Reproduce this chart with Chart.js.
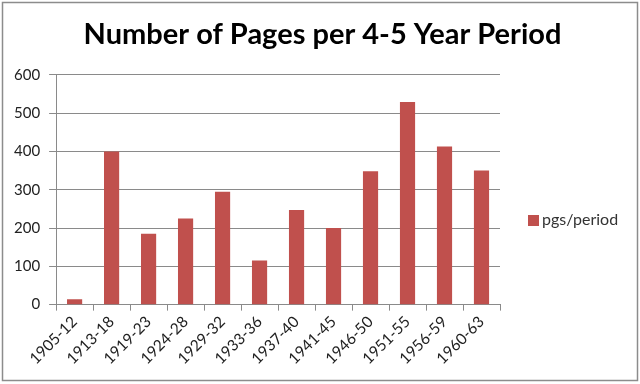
<!DOCTYPE html>
<html>
<head>
<meta charset="utf-8">
<script src="https://cdn.jsdelivr.net/npm/chart.js@4/dist/chart.umd.min.js"></script>
<style>
  html, body { margin: 0; padding: 0; background: #fff; }
  #wrap { width: 640px; height: 384px; position: relative; }
</style>
</head>
<body>
<div id="wrap"><canvas id="c" width="640" height="384"></canvas></div>
<script>
const periods = ['1905-12', '1913-18', '1919-23', '1924-28', '1929-32', '1933-36',
  '1937-40', '1941-45', '1946-50', '1951-55', '1956-59', '1960-63'];
const pages = [14, 400, 185, 225, 295, 115, 247, 200, 348, 529, 413, 350];
const yTicks = [0, 100, 200, 300, 400, 500, 600];

const FONT = 'Lato, "Open Sans", sans-serif';
const RED = '#C0504D';
const GRID = '#8a8a8a';

// outer frame of the chart object
const frame = {
  id: 'frame',
  beforeDraw(chart) {
    const ctx = chart.ctx;
    ctx.save();
    ctx.fillStyle = '#fff';
    ctx.fillRect(0, 0, chart.width, chart.height);
    ctx.strokeStyle = '#8c8c8c';
    ctx.lineWidth = 1.5;
    ctx.strokeRect(2.5, 2.5, chart.width - 5, chart.height - 6);
    ctx.restore();
  }
};

// legend on the right, single entry
const sideLegend = {
  id: 'sideLegend',
  afterDraw(chart) {
    const ctx = chart.ctx;
    const ds = chart.data.datasets[0];
    const x = chart.chartArea.right + 28;
    const y = 220;
    ctx.save();
    ctx.fillStyle = ds.backgroundColor;
    ctx.fillRect(x, y - 5, 11, 11);
    ctx.fillStyle = '#333';
    ctx.font = '16px ' + FONT;
    ctx.textBaseline = 'middle';
    ctx.fillText(ds.label, x + 14, y);
    ctx.restore();
  }
};

new Chart(document.getElementById('c'), {
  type: 'bar',
  data: {
    labels: periods,
    datasets: [{
      label: 'pgs/period',
      data: pages,
      backgroundColor: RED,
      barPercentage: 0.41,
      categoryPercentage: 1.0
    }]
  },
  options: {
    responsive: false,
    animation: false,
    layout: { padding: { left: 5, right: 0, top: 0, bottom: 14 } },
    plugins: {
      legend: { display: false },
      tooltip: { enabled: false },
      title: {
        display: true,
        text: 'Number of Pages per 4-5 Year Period',
        color: '#000',
        font: { family: FONT, size: 29, weight: 'bold' },
        padding: { top: 17, bottom: 23 }
      }
    },
    scales: {
      x: {
        offset: true,
        grid: { display: true, drawOnChartArea: false, offset: true, color: GRID, tickLength: 6 },
        border: { color: GRID },
        ticks: {
          color: '#222',
          font: { family: FONT, size: 15.5 },
          maxRotation: 45, minRotation: 45,
          padding: 2,
          autoSkip: false
        }
      },
      y: {
        min: 0, max: 600,
        afterBuildTicks(axis) { axis.ticks = yTicks.map(v => ({ value: v })); },
        grid: { color: GRID, tickLength: 7 },
        border: { color: GRID },
        ticks: {
          color: '#222',
          font: { family: FONT, size: 15 },
          padding: 9
        }
      },
      // empty right-hand space for the legend
      side: {
        position: 'right',
        display: true,
        grid: { display: false },
        border: { display: false },
        ticks: { display: false },
        afterFit(axis) { axis.width = 140; }
      }
    }
  },
  plugins: [frame, sideLegend]
});
</script>
</body>
</html>
